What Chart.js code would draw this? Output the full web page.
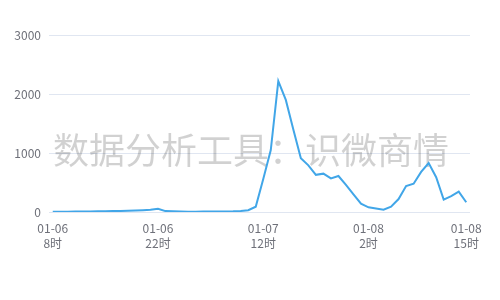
<!DOCTYPE html>
<html>
<head>
<meta charset="utf-8">
<script src="https://cdn.jsdelivr.net/npm/chart.js@4/dist/chart.umd.min.js"></script>
<style>
  html, body { margin: 0; padding: 0; background: #fff; }
  #wrap { width: 500px; height: 300px; }
</style>
</head>
<body>
<div id="wrap"><canvas id="trendChart"></canvas></div>
<script>
// hourly buckets, 01-06 8时 .. 01-08 15时
const days = ["01-06", "01-07", "01-08"];
const startHour = 8;
const hourCount = 56;
const categories = [];
for (let i = 0; i < hourCount; i++) {
  const h = startHour + i;
  categories.push([days[Math.floor(h / 24)], (h % 24) + "时"]);
}

// mention counts
const mentions = [
  5, 6, 5, 8, 10, 9, 12, 14, 15, 17,
  20, 24, 30, 38, 55, 15, 12, 8, 6, 6,
  7, 8, 9, 10, 12, 18, 30, 90, 560, 1050,
  2220, 1900, 1400, 910, 790, 630, 650, 570, 610, 460,
  300, 140, 80, 60, 40, 90, 220, 440, 480, 680,
  830, 590, 210, 270, 345, 165
];

// which x labels are printed
const shownTicks = [0, 14, 28, 42, 55];
const yTicks = [0, 1000, 2000, 3000];

const watermark = "数据分析工具：识微商情";
const fontFamily = "'Noto Sans CJK SC', 'Noto Sans', sans-serif";

// grey watermark under the line, over the grid
const watermarkPlugin = {
  id: "watermark",
  beforeDatasetsDraw(chart) {
    const ctx = chart.ctx;
    ctx.save();
    ctx.font = "36px " + fontFamily;
    ctx.fillStyle = "rgba(0,0,0,0.18)";
    ctx.textAlign = "center";
    ctx.textBaseline = "middle";
    ctx.fillText(watermark, 251, 150);
    ctx.restore();
  }
};

const ctx = document.getElementById("trendChart").getContext("2d");
new Chart(ctx, {
  type: "line",
  data: {
    labels: categories,
    datasets: [{
      data: mentions,
      borderColor: "#41a6e8",
      borderWidth: 2,
      pointRadius: 0,
      fill: false,
      tension: 0
    }]
  },
  options: {
    responsive: true,
    maintainAspectRatio: false,
    animation: false,
    layout: { padding: { top: 35, right: 30, left: 0, bottom: 0 } },
    plugins: {
      legend: { display: false },
      tooltip: { enabled: false }
    },
    scales: {
      x: {
        offset: true,
        grid: { display: false },
        border: { display: false },
        afterFit(scale) { scale.height = 88; },
        ticks: {
          autoSkip: false,
          maxRotation: 0,
          padding: 1,
          color: "#6e7079",
          font: { family: fontFamily, size: 12, lineHeight: 1.25 },
          callback(value, index) {
            return shownTicks.includes(index) ? categories[index] : null;
          }
        }
      },
      y: {
        min: yTicks[0],
        max: yTicks[yTicks.length - 1],
        afterFit(scale) { scale.width = 49; },
        grid: { color: "#e0e6f1", drawTicks: false },
        border: { display: false },
        ticks: {
          stepSize: 1000,
          padding: 8,
          color: "#6e7079",
          font: { family: fontFamily, size: 12 },
          callback: (value) => String(value)
        }
      }
    }
  },
  plugins: [watermarkPlugin]
});
</script>
</body>
</html>
